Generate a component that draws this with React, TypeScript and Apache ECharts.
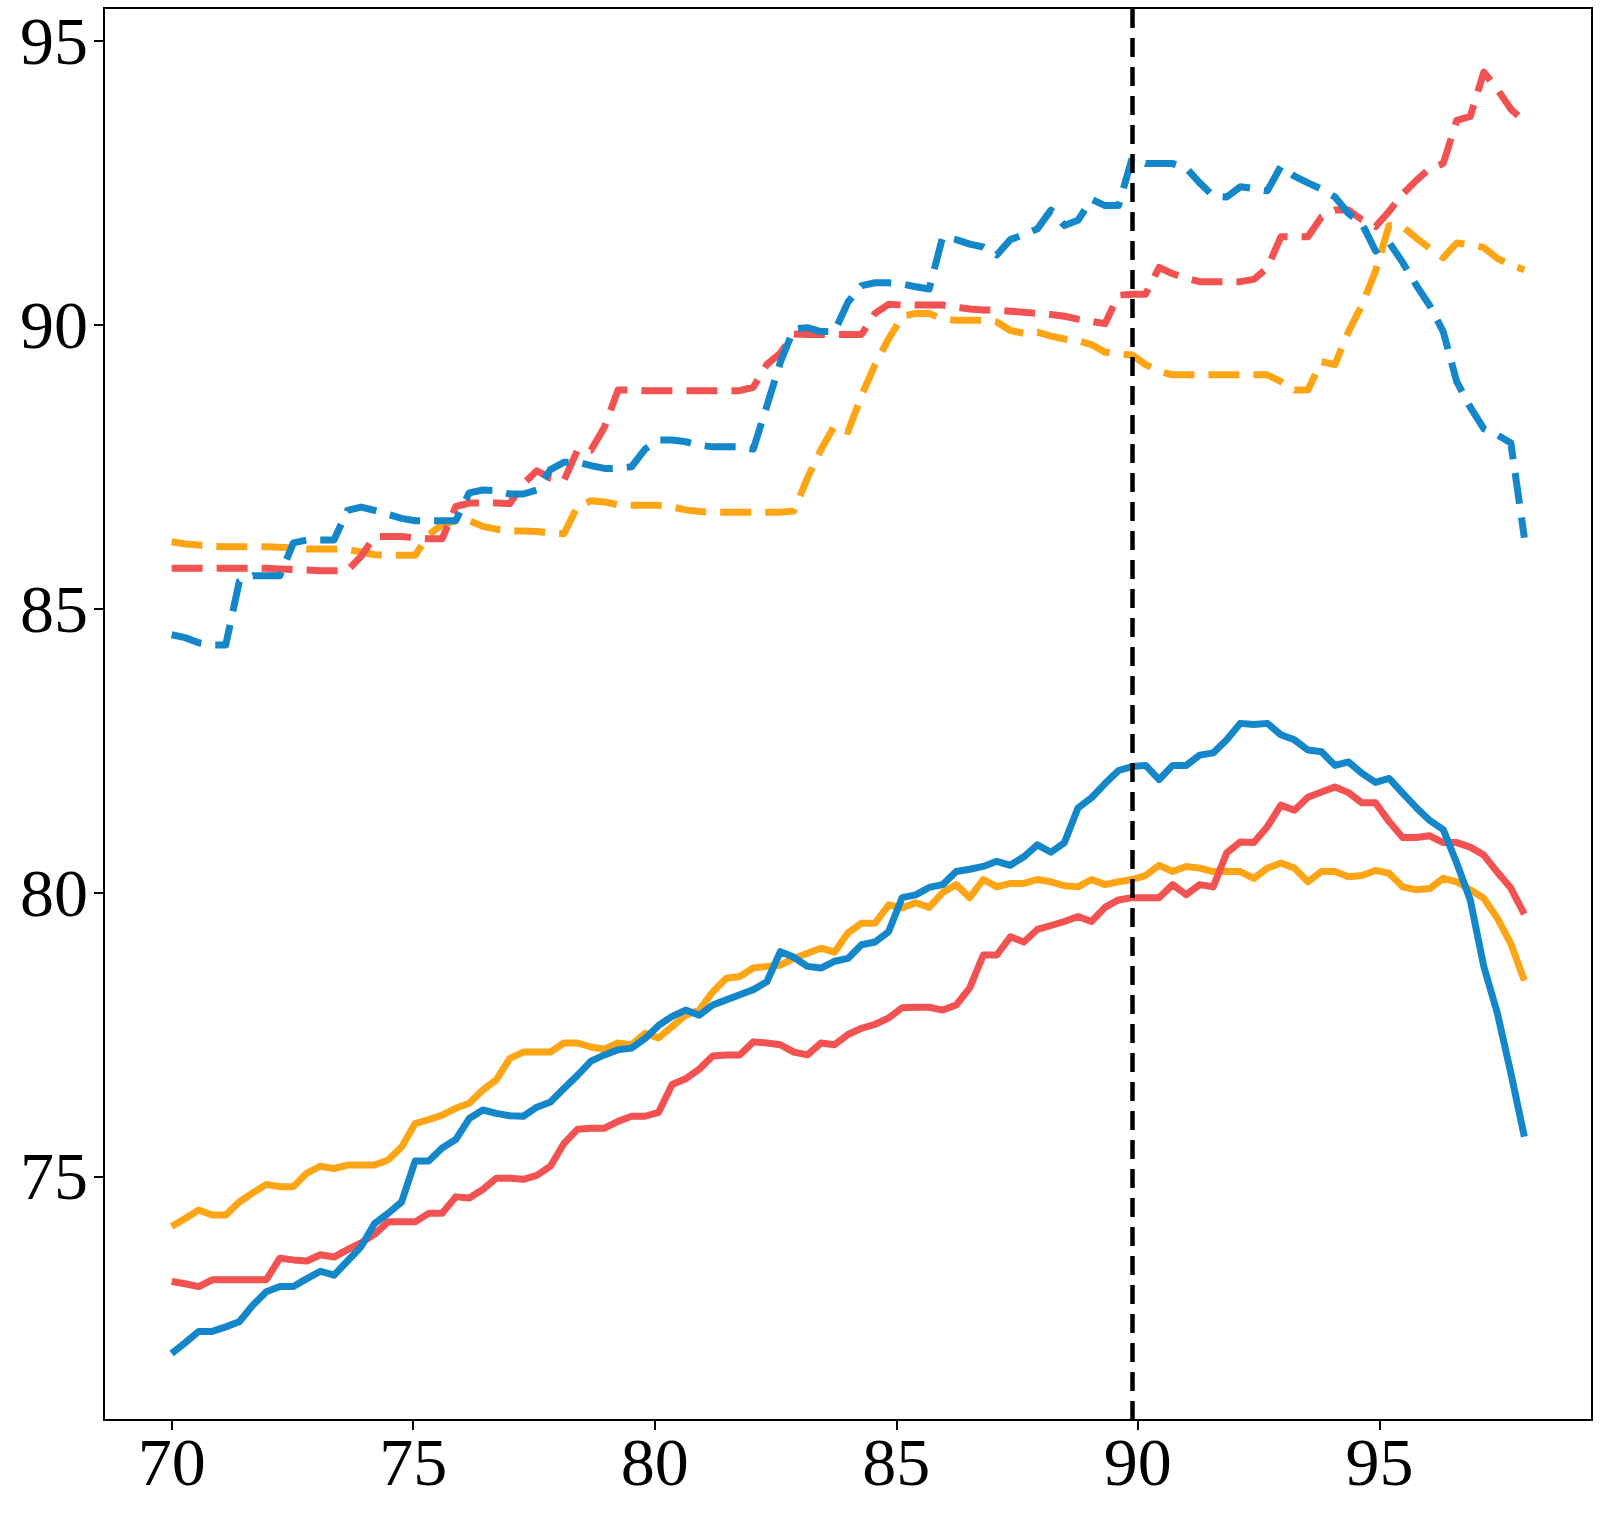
import React, { useEffect, useRef } from "react";
import * as echarts from "echarts";

// x positions of the samples (101 points between 70 and 98)
const X = [
  70, 70.28, 70.56, 70.84, 71.12, 71.4, 71.68, 71.96, 72.24, 72.52,
  72.8, 73.08, 73.36, 73.64, 73.92, 74.2, 74.48, 74.76, 75.04, 75.32,
  75.6, 75.88, 76.16, 76.44, 76.72, 77.0, 77.28, 77.56, 77.84, 78.12,
  78.4, 78.68, 78.96, 79.24, 79.52, 79.8, 80.08, 80.36, 80.64, 80.92,
  81.2, 81.48, 81.76, 82.04, 82.32, 82.6, 82.88, 83.16, 83.44, 83.72,
  84.0, 84.28, 84.56, 84.84, 85.12, 85.4, 85.68, 85.96, 86.24, 86.52,
  86.8, 87.08, 87.36, 87.64, 87.92, 88.2, 88.48, 88.76, 89.04, 89.32,
  89.6, 89.88, 90.16, 90.44, 90.72, 91.0, 91.28, 91.56, 91.84, 92.12,
  92.4, 92.68, 92.96, 93.24, 93.52, 93.8, 94.08, 94.36, 94.64, 94.92,
  95.2, 95.48, 95.76, 96.04, 96.32, 96.6, 96.88, 97.16, 97.44, 97.72,
  98.0,
];

const blueDashed = [
  84.54, 84.49, 84.40, 84.36, 84.36, 85.48, 85.58, 85.58, 85.58, 86.16,
  86.21, 86.21, 86.21, 86.73, 86.79, 86.73, 86.66, 86.59, 86.55, 86.55,
  86.55, 86.55, 87.04, 87.09, 87.08, 87.02, 87.02, 87.09, 87.45, 87.58,
  87.58, 87.52, 87.47, 87.47, 87.50, 87.81, 87.97, 87.97, 87.94, 87.88,
  87.85, 87.85, 87.85, 87.81, 88.57, 89.34, 89.93, 89.95, 89.88, 89.88,
  90.40, 90.69, 90.74, 90.74, 90.72, 90.67, 90.63, 91.55, 91.50, 91.42,
  91.37, 91.23, 91.50, 91.59, 91.69, 92.02, 91.75, 91.84, 92.21, 92.10,
  92.10, 92.93, 92.84, 92.84, 92.84, 92.76, 92.50, 92.27, 92.25, 92.43,
  92.40, 92.36, 92.79, 92.62, 92.50, 92.39, 92.25, 91.96, 91.78, 91.30,
  91.45, 91.10, 90.70, 90.34, 89.88, 89.00, 88.55, 88.17, 88.06, 87.92,
  86.25,
];

const redDashed = [
  85.71, 85.71, 85.71, 85.71, 85.71, 85.71, 85.71, 85.71, 85.70, 85.69,
  85.68, 85.67, 85.67, 85.67, 85.92, 86.27, 86.27, 86.27, 86.25, 86.23,
  86.23, 86.80, 86.86, 86.86, 86.86, 86.85, 87.20, 87.43, 87.30, 87.26,
  87.79, 87.79, 88.20, 88.85, 88.85, 88.84, 88.84, 88.84, 88.84, 88.84,
  88.84, 88.84, 88.84, 88.90, 89.30, 89.50, 89.84, 89.83, 89.83, 89.83,
  89.83, 89.83, 90.20, 90.36, 90.35, 90.35, 90.35, 90.35, 90.31, 90.28,
  90.26, 90.26, 90.24, 90.22, 90.20, 90.18, 90.15, 90.10, 90.06, 90.02,
  90.52, 90.54, 90.54, 91.01, 90.90, 90.82, 90.76, 90.76, 90.76, 90.76,
  90.80, 91.00, 91.55, 91.55, 91.55, 91.90, 92.02, 92.02, 91.85, 91.73,
  92.00, 92.30, 92.54, 92.75, 92.84, 93.60, 93.67, 94.45, 94.15, 93.80,
  93.58,
];

const orangeDashed = [
  86.18, 86.14, 86.12, 86.10, 86.09, 86.09, 86.09, 86.09, 86.08, 86.07,
  86.05, 86.05, 86.05, 86.04, 86.00, 85.95, 85.94, 85.94, 85.94, 86.30,
  86.48, 86.55, 86.55, 86.45, 86.40, 86.37, 86.37, 86.36, 86.33, 86.32,
  86.80, 86.90, 86.88, 86.83, 86.82, 86.82, 86.82, 86.79, 86.74, 86.71,
  86.70, 86.70, 86.70, 86.70, 86.70, 86.70, 86.72, 87.30, 87.80, 88.22,
  88.12, 88.75, 89.30, 89.75, 90.15, 90.20, 90.20, 90.10, 90.08, 90.08,
  90.08, 90.05, 89.90, 89.85, 89.87, 89.80, 89.75, 89.72, 89.65, 89.52,
  89.48, 89.47, 89.30, 89.18, 89.12, 89.12, 89.12, 89.12, 89.12, 89.12,
  89.12, 89.12, 89.00, 88.85, 88.85, 89.35, 89.30, 89.88, 90.35, 90.95,
  91.75, 91.73, 91.53, 91.35, 91.18, 91.44, 91.41, 91.36, 91.17, 91.05,
  90.97,
];

const blueSolid = [
  71.88, 72.07, 72.27, 72.27, 72.35, 72.44, 72.73, 72.97, 73.06, 73.06,
  73.20, 73.33, 73.26, 73.51, 73.76, 74.17, 74.35, 74.55, 75.27, 75.27,
  75.50, 75.65, 76.02, 76.17, 76.11, 76.07, 76.06, 76.22, 76.31, 76.55,
  76.78, 77.03, 77.14, 77.23, 77.26, 77.43, 77.66, 77.82, 77.93, 77.84,
  78.02, 78.11, 78.20, 78.29, 78.43, 78.96, 78.86, 78.70, 78.67, 78.79,
  78.84, 79.08, 79.13, 79.31, 79.91, 79.96, 80.09, 80.14, 80.37, 80.41,
  80.46, 80.55, 80.48, 80.63, 80.84, 80.71, 80.88, 81.49, 81.67, 81.92,
  82.15, 82.22, 82.24, 81.99, 82.24, 82.24, 82.42, 82.46, 82.69, 82.98,
  82.96, 82.98, 82.78, 82.69, 82.51, 82.48, 82.24, 82.30, 82.10, 81.94,
  82.01, 81.75, 81.50, 81.27, 81.11, 80.52, 79.87, 78.70, 77.88, 76.82,
  75.70,
];

const redSolid = [
  73.15, 73.11, 73.06, 73.18, 73.18, 73.18, 73.18, 73.18, 73.56, 73.53,
  73.51, 73.62, 73.58, 73.71, 73.83, 73.98, 74.20, 74.20, 74.20, 74.35,
  74.35, 74.64, 74.62, 74.77, 74.97, 74.97, 74.95, 75.02, 75.18, 75.58,
  75.83, 75.85, 75.85, 75.97, 76.06, 76.06, 76.13, 76.62, 76.72, 76.89,
  77.12, 77.14, 77.14, 77.37, 77.35, 77.32, 77.19, 77.14, 77.35, 77.32,
  77.50, 77.61, 77.68, 77.79, 77.97, 77.98, 77.98, 77.93, 78.02, 78.32,
  78.90, 78.90, 79.22, 79.13, 79.35, 79.42, 79.49, 79.58, 79.49, 79.74,
  79.87, 79.91, 79.91, 79.91, 80.14, 79.96, 80.14, 80.10, 80.70, 80.89,
  80.88, 81.16, 81.54, 81.45, 81.68, 81.77, 81.86, 81.76, 81.58, 81.58,
  81.25, 80.97, 80.97, 81.00, 80.88, 80.88, 80.80, 80.66, 80.36, 80.08,
  79.62,
];

const orangeSolid = [
  74.12, 74.26, 74.41, 74.32, 74.32, 74.55, 74.71, 74.86, 74.82, 74.82,
  75.06, 75.18, 75.14, 75.20, 75.20, 75.20, 75.29, 75.52, 75.93, 76.00,
  76.08, 76.20, 76.29, 76.52, 76.70, 77.08, 77.19, 77.19, 77.19, 77.35,
  77.35, 77.28, 77.24, 77.35, 77.32, 77.52, 77.44, 77.64, 77.84, 77.93,
  78.25, 78.49, 78.52, 78.67, 78.70, 78.72, 78.84, 78.93, 79.02, 78.95,
  79.29, 79.46, 79.46, 79.78, 79.73, 79.82, 79.74, 80.00, 80.14, 79.91,
  80.23, 80.10, 80.16, 80.16, 80.23, 80.19, 80.12, 80.10, 80.23, 80.14,
  80.19, 80.23, 80.30, 80.48, 80.37, 80.46, 80.43, 80.37, 80.37, 80.37,
  80.25, 80.43, 80.52, 80.43, 80.19, 80.37, 80.37, 80.28, 80.30, 80.39,
  80.34, 80.10, 80.05, 80.07, 80.25, 80.19, 80.05, 79.90, 79.55, 79.10,
  78.45,
];

const xTicks = [70, 75, 80, 85, 90, 95];
const yTicks = [75, 80, 85, 90, 95];
const thresholdX = 89.88;

const BLUE = "#1387c9";
const RED = "#f25352";
const ORANGE = "#fea516";

const FONT = "Liberation Serif";

function pairs(ys: number[]) {
  return X.map((x, i) => [x, ys[i]]);
}

export default function App() {
  const ref = useRef<HTMLDivElement>(null);

  useEffect(() => {
    document.body.style.margin = "0";
    if (!ref.current) return;
    const chart = echarts.init(ref.current, undefined, { renderer: "svg" });

    const line = (name: string, color: string, data: number[], dash: any) => ({
      name,
      type: "line",
      data: pairs(data),
      symbol: "none",
      showSymbol: false,
      lineStyle: { color, width: 7, type: dash, cap: "butt", join: "round" },
      z: 2,
    });

    const series: any[] = [
      line("orangeDashed", ORANGE, orangeDashed, [31, 14]),
      line("redDashed", RED, redDashed, [31, 14]),
      line("blueDashed", BLUE, blueDashed, [31, 14]),
      line("orangeSolid", ORANGE, orangeSolid, "solid"),
      line("redSolid", RED, redSolid, "solid"),
      line("blueSolid", BLUE, blueSolid, "solid"),
    ];
    series[5].markLine = {
      silent: true,
      symbol: "none",
      label: { show: false },
      lineStyle: { color: "#000", width: 4.5, type: [19, 10] },
      data: [{ xAxis: thresholdX }],
      z: 5,
    };

    chart.setOption({
      animation: false,
      backgroundColor: "#fff",
      textStyle: { fontFamily: FONT },
      grid: {
        left: 104,
        right: 8,
        top: 8,
        bottom: 100,
        show: true,
        borderColor: "#000",
        borderWidth: 2,
        backgroundColor: "transparent",
      },
      xAxis: {
        type: "value",
        min: 68.6,
        max: 99.4,
        splitLine: { show: false },
        axisLine: { show: true, onZero: false, lineStyle: { color: "#000", width: 2 } },
        axisTick: {
          show: true,
          inside: false,
          length: 10,
          lineStyle: { color: "#000", width: 2 },
          customValues: xTicks,
        },
        axisLabel: {
          show: true,
          customValues: xTicks,
          color: "#000",
          fontFamily: FONT,
          fontSize: 68,
          margin: 8,
        },
      },
      yAxis: {
        type: "value",
        min: 70.71,
        max: 95.58,
        splitLine: { show: false },
        axisLine: { show: true, onZero: false, lineStyle: { color: "#000", width: 2 } },
        axisTick: {
          show: true,
          inside: false,
          length: 10,
          lineStyle: { color: "#000", width: 2 },
          customValues: yTicks,
        },
        axisLabel: {
          show: true,
          customValues: yTicks,
          color: "#000",
          fontFamily: FONT,
          fontSize: 68,
          margin: 16,
        },
      },
      series,
    });

    return () => chart.dispose();
  }, []);

  return <div ref={ref} style={{ width: "1600px", height: "1520px" }} />;
}
